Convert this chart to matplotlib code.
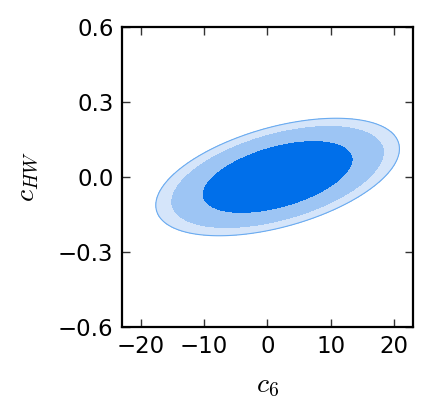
import numpy as np
import matplotlib
matplotlib.use("Agg")
import matplotlib.pyplot as plt

# Gaussian approximation of the likelihood
mean_c6 = 1.6
mean_chw = 0.0
sigma_c6 = 7.86
sigma_chw = 0.096
rho = 0.48
# chi2 levels (2 dof) for 68.3%, 90%, 95%
chi2_levels = [2.30, 4.61, 5.99]
fill_colors = ["#006FEA", "#9DC5F4", "#D5E5FA"]
edge_color = "#6AABF0"

x_ticks = [-20, -10, 0, 10, 20]
y_ticks = [-0.6, -0.3, 0.0, 0.3, 0.6]
xlim = (-23, 23)
ylim = (-0.6, 0.6)

plt.rcParams["mathtext.fontset"] = "cm"

fig = plt.figure(figsize=(4.29, 4.15), dpi=100)
ax = fig.add_axes([0.284, 0.212, 0.679, 0.723])

xs = np.linspace(xlim[0], xlim[1], 600)
ys = np.linspace(ylim[0], ylim[1], 600)
X, Y = np.meshgrid(xs, ys)
dx = (X - mean_c6) / sigma_c6
dy = (Y - mean_chw) / sigma_chw
chi2 = (dx**2 - 2 * rho * dx * dy + dy**2) / (1 - rho**2)

ax.contourf(X, Y, chi2, levels=[0, chi2_levels[0], chi2_levels[1], chi2_levels[2]],
            colors=fill_colors)
ax.contour(X, Y, chi2, levels=[chi2_levels[2]], colors=[edge_color], linewidths=0.8)

ax.set_xlim(*xlim)
ax.set_ylim(*ylim)
ax.set_xticks(x_ticks)
ax.set_yticks(y_ticks)
ax.set_yticklabels([f"{v:.1f}".replace("-", "\u2212") for v in y_ticks])
ax.set_xticklabels([f"{v:d}".replace("-", "\u2212") for v in x_ticks])
ax.tick_params(direction="in", top=True, right=True, length=6, width=1,
               labelsize=16.5, pad=6, color="#333333")
for s in ax.spines.values():
    s.set_linewidth(1.6)

ax.set_xlabel(r"$c_6$", fontsize=20, labelpad=9)
ax.set_ylabel(r"$c_{HW}$", fontsize=20, labelpad=12)

fig.savefig("out.png", dpi=100)
